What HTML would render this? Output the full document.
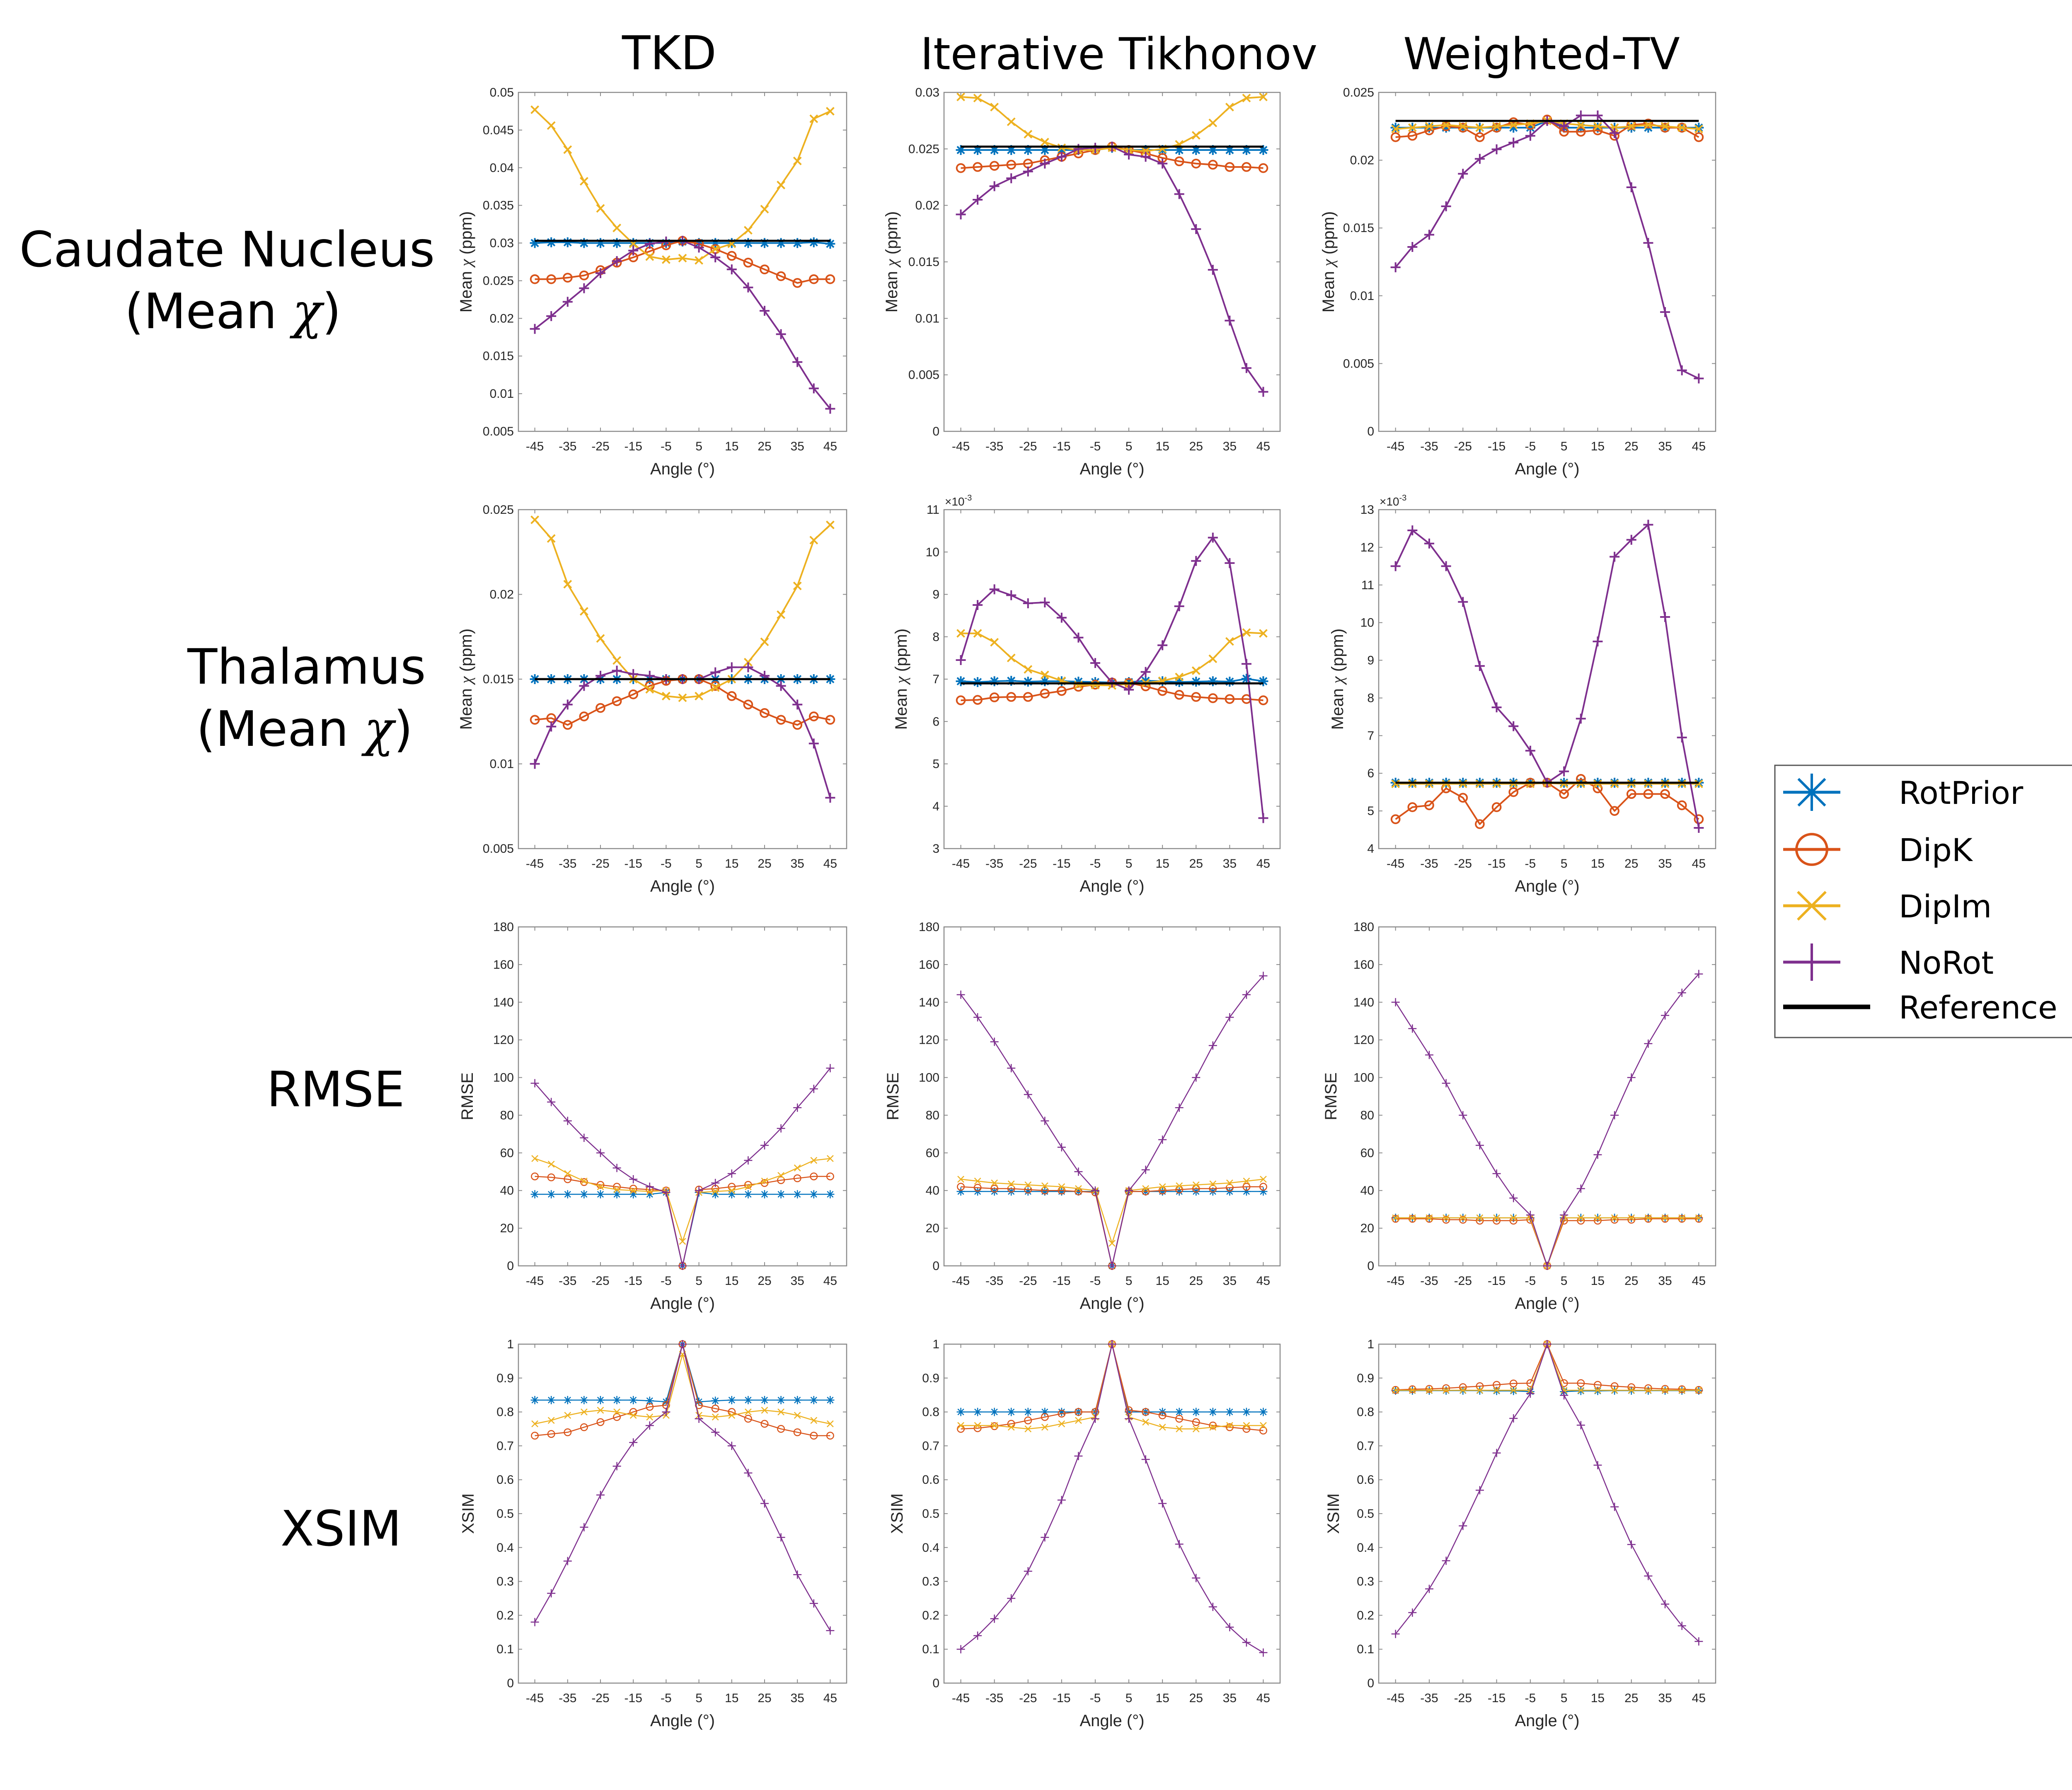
<!DOCTYPE html>
<html><head><meta charset="utf-8"><style>
html,body{margin:0;padding:0;background:#fff;}
svg{display:block;}
</style></head><body>
<svg id="fig" xmlns="http://www.w3.org/2000/svg" width="5160" height="4320" viewBox="0 0 5160 4320">
<rect x="0" y="0" width="5160" height="4320" fill="#fff"/>
<g font-family="'DejaVu Sans', 'Liberation Sans', sans-serif" fill="#000">
<text x="1615" y="167" font-size="112" text-anchor="middle">TKD</text>
<text x="2700" y="167" font-size="106" text-anchor="middle">Iterative Tikhonov</text>
<text x="3720" y="167" font-size="106" text-anchor="middle">Weighted-TV</text>
<text x="548" y="643" font-size="118" text-anchor="middle">Caudate Nucleus</text>
<text x="562" y="792" font-size="118" text-anchor="middle">(Mean <tspan font-style="italic" font-family="'DejaVu Serif', serif">χ</tspan>)</text>
<text x="740" y="1650" font-size="118" text-anchor="middle">Thalamus</text>
<text x="735" y="1800" font-size="118" text-anchor="middle">(Mean <tspan font-style="italic" font-family="'DejaVu Serif', serif">χ</tspan>)</text>
<text x="810" y="2670" font-size="118" text-anchor="middle">RMSE</text>
<text x="823" y="3730" font-size="118" text-anchor="middle">XSIM</text>
</g>
<g id="panels"></g>
<g id="legend"></g>
</svg>
<script>
const angles = [-45,-40,-35,-30,-25,-20,-15,-10,-5,0,5,10,15,20,25,30,35,40,45];
const xTickLabels = [-45,-35,-25,-15,-5,5,15,25,35,45];

// Row 1: Caudate mean chi
const tkdCaudRot = [0.0300,0.0301,0.0301,0.0300,0.0300,0.0300,0.0300,0.0300,0.0300,0.0302,0.0300,0.0300,0.0300,0.0300,0.0300,0.0300,0.0300,0.0301,0.0299];
const tkdCaudDipK = [0.0252,0.0252,0.0254,0.0257,0.0264,0.0274,0.0281,0.0289,0.0297,0.0303,0.0299,0.0292,0.0283,0.0274,0.0265,0.0256,0.0247,0.0252,0.0252];
const tkdCaudDipIm = [0.0477,0.0456,0.0424,0.0382,0.0346,0.0320,0.0299,0.0282,0.0278,0.0280,0.0277,0.0292,0.0299,0.0317,0.0345,0.0377,0.0409,0.0465,0.0475];
const tkdCaudNoRot = [0.0186,0.0203,0.0222,0.0240,0.0260,0.0276,0.0290,0.0299,0.0302,0.0303,0.0294,0.0281,0.0265,0.0241,0.0210,0.0179,0.0142,0.0107,0.0080];
const tkdCaudRef = [0.0303];

const tikCaudRot = [0.0249,0.0249,0.0249,0.0249,0.0249,0.0249,0.0249,0.0249,0.0249,0.0251,0.0249,0.0249,0.0249,0.0249,0.0249,0.0249,0.0249,0.0249,0.0249];
const tikCaudDipK = [0.0233,0.0234,0.0235,0.0236,0.0237,0.0240,0.0243,0.0246,0.0249,0.0252,0.0249,0.0246,0.0242,0.0239,0.0237,0.0236,0.0234,0.0234,0.0233];
const tikCaudDipIm = [0.0296,0.0295,0.0287,0.0274,0.0263,0.0256,0.0251,0.0249,0.0249,0.0251,0.0249,0.0248,0.0250,0.0254,0.0262,0.0273,0.0287,0.0295,0.0296];
const tikCaudNoRot = [0.0192,0.0205,0.0217,0.0224,0.0230,0.0237,0.0243,0.0250,0.0251,0.0252,0.0245,0.0243,0.0237,0.0210,0.0179,0.0143,0.0098,0.0056,0.0035];
const tikCaudRef = [0.0252];

const wtvCaudRot = [0.0224,0.0224,0.0224,0.0224,0.0224,0.0224,0.0224,0.0224,0.0224,0.0229,0.0224,0.0224,0.0224,0.0224,0.0224,0.0224,0.0224,0.0224,0.0224];
const wtvCaudDipK = [0.0217,0.0218,0.0222,0.0225,0.0224,0.0217,0.0224,0.0228,0.0226,0.0230,0.0221,0.0221,0.0222,0.0218,0.0226,0.0227,0.0224,0.0224,0.0217];
const wtvCaudDipIm = [0.0223,0.0224,0.0225,0.0226,0.0225,0.0224,0.0225,0.0226,0.0227,0.0229,0.0227,0.0226,0.0225,0.0224,0.0225,0.0226,0.0225,0.0224,0.0223];
const wtvCaudNoRot = [0.0121,0.0136,0.0145,0.0166,0.0190,0.0201,0.0208,0.0213,0.0218,0.0229,0.0225,0.0233,0.0233,0.0220,0.0180,0.0139,0.0088,0.0045,0.0039];
const wtvCaudRef = [0.0229];

// Row 2: Thalamus mean chi
const tkdThalRot = [0.0150,0.0150,0.0150,0.0150,0.0150,0.0150,0.0150,0.0150,0.0150,0.0150,0.0150,0.0150,0.0150,0.0150,0.0150,0.0150,0.0150,0.0150,0.0150];
const tkdThalDipK = [0.0126,0.0127,0.0123,0.0128,0.0133,0.0137,0.0141,0.0146,0.0149,0.0150,0.0150,0.0146,0.0140,0.0135,0.0130,0.0126,0.0123,0.0128,0.0126];
const tkdThalDipIm = [0.0244,0.0233,0.0206,0.0190,0.0174,0.0161,0.0150,0.0144,0.0140,0.0139,0.0140,0.0145,0.0150,0.0160,0.0172,0.0188,0.0205,0.0232,0.0241];
const tkdThalNoRot = [0.0100,0.0122,0.0135,0.0146,0.0152,0.0155,0.0153,0.0152,0.0150,0.0150,0.0150,0.0154,0.0157,0.0157,0.0152,0.0146,0.0135,0.0112,0.0080];
const tkdThalRef = [0.0150];

const tikThalRot = [6.95,6.93,6.95,6.96,6.94,6.95,6.95,6.94,6.93,6.92,6.93,6.96,6.95,6.93,6.94,6.95,6.94,7.01,6.95];
const tikThalDipK = [6.50,6.51,6.57,6.58,6.58,6.66,6.72,6.82,6.87,6.92,6.91,6.83,6.72,6.63,6.58,6.55,6.53,6.53,6.50];
const tikThalDipIm = [8.08,8.08,7.87,7.50,7.23,7.10,6.96,6.86,6.86,6.85,6.89,6.91,6.96,7.05,7.20,7.48,7.89,8.10,8.08];
const tikThalNoRot = [7.45,8.75,9.12,8.98,8.79,8.81,8.45,7.98,7.38,6.92,6.75,7.17,7.80,8.72,9.79,10.34,9.74,7.36,3.72];
const tikThalRef = [6.90];

const wtvThalRot = [5.75,5.75,5.75,5.75,5.75,5.75,5.75,5.75,5.75,5.75,5.75,5.75,5.75,5.75,5.75,5.75,5.75,5.75,5.75];
const wtvThalDipK = [4.78,5.10,5.15,5.60,5.35,4.65,5.10,5.50,5.75,5.75,5.45,5.85,5.60,5.00,5.45,5.45,5.45,5.15,4.78];
const wtvThalDipIm = [5.72,5.72,5.72,5.72,5.72,5.72,5.72,5.72,5.72,5.74,5.72,5.72,5.72,5.72,5.72,5.72,5.72,5.72,5.72];
const wtvThalNoRot = [11.50,12.45,12.10,11.50,10.55,8.85,7.75,7.25,6.60,5.75,6.05,7.45,9.50,11.75,12.20,12.60,10.15,6.95,4.55];
const wtvThalRef = [5.75];

// Row 3: RMSE
const tkdRmseRot = [38,38,38,38,38,38,38,38,39,0,39,38,38,38,38,38,38,38,38];
const tkdRmseDipK = [47.5,47,46,44.5,43,42,41,40.5,40,0,40.5,41,42,43,44,45.5,46.5,47.5,47.5];
const tkdRmseDipIm = [57,54,49,45,42,40.5,40,39.5,40,13,39,39.5,40,42,45,48,52,56,57];
const tkdRmseNoRot = [97,87,77,68,60,52,46,42,39,0,40,44,49,56,64,73,84,94,105];

const tikRmseRot = [39.5,39.5,39.5,39.5,39.5,39.5,39.5,39.5,39.5,0,39.5,39.5,39.5,39.5,39.5,39.5,39.5,39.5,39.5];
const tikRmseDipK = [42,41.5,41,41,40.5,40,40,39.5,39,0,39.5,39.5,40,40.5,41,41,41.5,42,42];
const tikRmseDipIm = [46,45,44,43.5,43,42.5,42,41,40,12,40,41,42,42.5,43,43.5,44,45,46];
const tikRmseNoRot = [144,132,119,105,91,77,63,50,40,0,40,51,67,84,100,117,132,144,154];

const wtvRmseRot = [25.5,25.5,25.5,25.5,25.5,25.5,25.5,25.5,25.5,0,25.5,25.5,25.5,25.5,25.5,25.5,25.5,25.5,25.5];
const wtvRmseDipK = [25,25,25,24.5,24.5,24,24,24,24.5,0,24,24,24,24.5,24.5,25,25,25,25];
const wtvRmseDipIm = [25.5,25.5,25.5,25.5,25.5,25.5,25.5,25.5,25.5,0,25.5,25.5,25.5,25.5,25.5,25.5,25.5,25.5,25.5];
const wtvRmseNoRot = [140,126,112,97,80,64,49,36,27,0,27,41,59,80,100,118,133,145,155];

// Row 4: XSIM
const tkdXsimRot = [0.835,0.835,0.835,0.835,0.835,0.835,0.835,0.833,0.83,1,0.83,0.833,0.835,0.835,0.835,0.835,0.835,0.835,0.835];
const tkdXsimDipK = [0.73,0.735,0.74,0.755,0.77,0.785,0.80,0.815,0.82,1,0.82,0.81,0.80,0.78,0.765,0.75,0.74,0.73,0.73];
const tkdXsimDipIm = [0.765,0.775,0.79,0.80,0.805,0.80,0.79,0.785,0.79,0.97,0.79,0.785,0.79,0.80,0.805,0.80,0.79,0.775,0.765];
const tkdXsimNoRot = [0.18,0.265,0.36,0.46,0.555,0.64,0.71,0.76,0.80,1,0.78,0.74,0.70,0.62,0.53,0.43,0.32,0.235,0.155];

const tikXsimRot = [0.80,0.80,0.80,0.80,0.80,0.80,0.80,0.80,0.80,1,0.80,0.80,0.80,0.80,0.80,0.80,0.80,0.80,0.80];
const tikXsimDipK = [0.75,0.752,0.758,0.765,0.775,0.785,0.795,0.80,0.80,1,0.805,0.80,0.79,0.78,0.77,0.76,0.755,0.75,0.745];
const tikXsimDipIm = [0.76,0.76,0.76,0.755,0.75,0.755,0.765,0.775,0.785,1,0.785,0.77,0.755,0.75,0.75,0.755,0.76,0.76,0.76];
const tikXsimNoRot = [0.10,0.14,0.19,0.25,0.33,0.43,0.54,0.67,0.78,1,0.78,0.66,0.53,0.41,0.31,0.225,0.165,0.12,0.09];

const wtvXsimRot = [0.863,0.863,0.863,0.863,0.863,0.863,0.862,0.862,0.86,1,0.86,0.862,0.862,0.863,0.863,0.863,0.863,0.863,0.863];
const wtvXsimDipK = [0.865,0.867,0.868,0.87,0.873,0.876,0.88,0.884,0.885,1,0.885,0.885,0.88,0.876,0.873,0.87,0.868,0.867,0.865];
const wtvXsimDipIm = [0.864,0.864,0.864,0.864,0.864,0.864,0.864,0.864,0.864,1,0.864,0.864,0.864,0.864,0.864,0.864,0.864,0.864,0.864];
const wtvXsimNoRot = [0.145,0.208,0.278,0.361,0.464,0.569,0.679,0.781,0.854,1,0.849,0.761,0.643,0.520,0.409,0.316,0.233,0.169,0.123];

const caudTkdTicks = ['0.005','0.01','0.015','0.02','0.025','0.03','0.035','0.04','0.045','0.05'];
const caudTikTicks = ['0','0.005','0.01','0.015','0.02','0.025','0.03'];
const caudWtvTicks = ['0','0.005','0.01','0.015','0.02','0.025'];
const thalTkdTicks = ['0.005','0.01','0.015','0.02','0.025'];
const thalTikTicks = ['3','4','5','6','7','8','9','10','11'];
const thalWtvTicks = ['4','5','6','7','8','9','10','11','12','13'];
const rmseTicks = ['0','20','40','60','80','100','120','140','160','180'];
const xsimTicks = ['0','0.1','0.2','0.3','0.4','0.5','0.6','0.7','0.8','0.9','1'];

const NS = 'http://www.w3.org/2000/svg';
const COLORS = {rot:'#0072BD', dipk:'#D95319', dipim:'#EDB120', norot:'#7E2F8E'};
const colLeft = [1251, 2278, 3327];
const colW = [792, 811, 813];
const rowTop = [223, 1230, 2237, 3244];
const rowH = 818;

function el(tag, attrs, parent) {
  const e = document.createElementNS(NS, tag);
  for (const k in attrs) e.setAttribute(k, attrs[k]);
  if (parent) parent.appendChild(e);
  return e;
}

function marker(g, type, x, y, s, color, sw) {
  const d = [];
  if (type === 'rot') {
    d.push(`M${x-s},${y}H${x+s}M${x},${y-s}V${y+s}`);
    const a = s*0.72;
    d.push(`M${x-a},${y-a}L${x+a},${y+a}M${x-a},${y+a}L${x+a},${y-a}`);
  } else if (type === 'dipim') {
    const a = s*0.75;
    d.push(`M${x-a},${y-a}L${x+a},${y+a}M${x-a},${y+a}L${x+a},${y-a}`);
  } else if (type === 'norot') {
    d.push(`M${x-s},${y}H${x+s}M${x},${y-s}V${y+s}`);
  }
  if (type === 'dipk') {
    const c = el('circle', {cx:x, cy:y, r:s*0.82, fill:'none', stroke:color, 'stroke-width':sw}, g);
    
    
  } else {
    const p = el('path', {d:d.join(''), fill:'none', stroke:color, 'stroke-width':sw}, g);
    
    
  }
}

const panels = [
  {c:0,r:0,ticks:caudTkdTicks,lo:0.005,hi:0.05,yl:'chi',ylx:113,ref:tkdCaudRef,s:[tkdCaudRot,tkdCaudDipK,tkdCaudDipIm,tkdCaudNoRot],name:'tkd-caudate'},
  {c:1,r:0,ticks:caudTikTicks,lo:0,hi:0.03,yl:'chi',ylx:113,ref:tikCaudRef,s:[tikCaudRot,tikCaudDipK,tikCaudDipIm,tikCaudNoRot],name:'tikhonov-caudate'},
  {c:2,r:0,ticks:caudWtvTicks,lo:0,hi:0.025,yl:'chi',ylx:108,ref:wtvCaudRef,s:[wtvCaudRot,wtvCaudDipK,wtvCaudDipIm,wtvCaudNoRot],name:'wtv-caudate'},
  {c:0,r:1,ticks:thalTkdTicks,lo:0.005,hi:0.025,yl:'chi',ylx:113,ref:tkdThalRef,s:[tkdThalRot,tkdThalDipK,tkdThalDipIm,tkdThalNoRot],name:'tkd-thalamus'},
  {c:1,r:1,ticks:thalTikTicks,lo:3,hi:11,yl:'chi',ylx:90,ref:tikThalRef,s:[tikThalRot,tikThalDipK,tikThalDipIm,tikThalNoRot],name:'tikhonov-thalamus',exp:true},
  {c:2,r:1,ticks:thalWtvTicks,lo:4,hi:13,yl:'chi',ylx:86,ref:wtvThalRef,s:[wtvThalRot,wtvThalDipK,wtvThalDipIm,wtvThalNoRot],name:'wtv-thalamus',exp:true},
  {c:0,r:2,ticks:rmseTicks,lo:0,hi:180,yl:'RMSE',ylx:110,ref:null,s:[tkdRmseRot,tkdRmseDipK,tkdRmseDipIm,tkdRmseNoRot],name:'tkd-rmse'},
  {c:1,r:2,ticks:rmseTicks,lo:0,hi:180,yl:'RMSE',ylx:110,ref:null,s:[tikRmseRot,tikRmseDipK,tikRmseDipIm,tikRmseNoRot],name:'tikhonov-rmse'},
  {c:2,r:2,ticks:rmseTicks,lo:0,hi:180,yl:'RMSE',ylx:102,ref:null,s:[wtvRmseRot,wtvRmseDipK,wtvRmseDipIm,wtvRmseNoRot],name:'wtv-rmse'},
  {c:0,r:3,ticks:xsimTicks,lo:0,hi:1,yl:'XSIM',ylx:108,ref:null,s:[tkdXsimRot,tkdXsimDipK,tkdXsimDipIm,tkdXsimNoRot],name:'tkd-xsim'},
  {c:1,r:3,ticks:xsimTicks,lo:0,hi:1,yl:'XSIM',ylx:100,ref:null,s:[tikXsimRot,tikXsimDipK,tikXsimDipIm,tikXsimNoRot],name:'tikhonov-xsim'},
  {c:2,r:3,ticks:xsimTicks,lo:0,hi:1,yl:'XSIM',ylx:96,ref:null,s:[wtvXsimRot,wtvXsimDipK,wtvXsimDipIm,wtvXsimNoRot],name:'wtv-xsim'}
];
const keys = ['rot','dipk','dipim','norot'];
const root = document.getElementById('panels');

panels.forEach(P => {
  const L = colLeft[P.c], W = colW[P.c], T = rowTop[P.r], B = T + rowH;
  const xs = a => L + (a + 50) / 100 * W;
  const ys = v => B - (v - P.lo) / (P.hi - P.lo) * rowH;
  const g = el('g', {}, root);
  
  
  const big = P.r < 2;
  const box = el('rect', {x:L, y:T, width:W, height:rowH, fill:'none', stroke:'#8a8a8a', 'stroke-width':2.5}, g);
  
  
  xTickLabels.forEach(a => {
    const x = xs(a);
    el('path', {d:`M${x},${B}V${B-9}M${x},${T}V${T+9}`, stroke:'#8a8a8a', 'stroke-width':2}, g);
    const t = el('text', {x:x, y:B+46, 'font-size':30, 'text-anchor':'middle', fill:'#262626', 'font-family':"'Liberation Sans', sans-serif"}, g);
    t.textContent = String(a);
    
    
  });
  const n = P.ticks.length;
  P.ticks.forEach((lab, i) => {
    const v = P.lo + (P.hi - P.lo) * i / (n - 1);
    const y = ys(v);
    el('path', {d:`M${L},${y}H${L+9}M${L+W},${y}H${L+W-9}`, stroke:'#8a8a8a', 'stroke-width':2}, g);
    const t = el('text', {x:L-11, y:y+10, 'font-size':30, 'text-anchor':'end', fill:'#262626', 'font-family':"'Liberation Sans', sans-serif"}, g);
    t.textContent = lab;
    
    
  });
  if (P.exp) {
    const t = el('text', {x:L+2, y:T-10, 'font-size':28, fill:'#262626', 'font-family':"'Liberation Sans', sans-serif"}, g);
    t.innerHTML = '×10<tspan dy="-12" font-size="20">-3</tspan>';
    
    
  }
  const xl = el('text', {x:L+W/2, y:B+104, 'font-size':40, 'text-anchor':'middle', fill:'#262626', 'font-family':"'Liberation Sans', sans-serif"}, g);
  xl.textContent = 'Angle (°)';
  
  
  const cy = T + rowH/2, cx = L - P.ylx;
  const yl = el('text', {x:cx, y:cy, 'font-size':40, 'text-anchor':'middle', fill:'#262626', transform:`rotate(-90 ${cx} ${cy})`, 'font-family':"'Liberation Sans', sans-serif"}, g);
  if (P.yl === 'chi') yl.innerHTML = 'Mean <tspan font-style="italic" font-family="\'Liberation Serif\', serif">χ</tspan> (ppm)';
  else yl.textContent = P.yl;
  
  
  const lw = big ? 4 : 2.5;
  const ms = big ? 12 : 10;
  const msw = big ? 4 : 2.5;
  P.s.forEach((vals, si) => {
    const k = keys[si];
    const sg = el('g', {}, g);
    
    
    const pts = vals.map((v, i) => xs(angles[i]) + ',' + ys(v)).join(' ');
    const pl = el('polyline', {points:pts, fill:'none', stroke:COLORS[k], 'stroke-width':lw, 'stroke-linejoin':'round'}, sg);
    
    
    vals.forEach((v, i) => marker(sg, k, xs(angles[i]), ys(v), ms, COLORS[k], msw));
  });
  if (P.ref) {
    const r = el('line', {x1:xs(angles[0]), x2:xs(angles[angles.length-1]), y1:ys(P.ref[0]), y2:ys(P.ref[0]), stroke:'#000', 'stroke-width':5}, g);
    
    
  }
});

const lg = document.getElementById('legend');
const lbox = el('rect', {x:4283, y:1847, width:723, height:657, fill:'#fff', stroke:'#555', 'stroke-width':3}, lg);


const legendNames = ['RotPrior','DipK','DipIm','NoRot','Reference'];
const legendY = [1912, 2050, 2186, 2322, 2430];
legendNames.forEach((nm, i) => {
  const y = legendY[i];
  const eg = el('g', {}, lg);
  
  
  if (i < 4) {
    const k = keys[i];
    el('line', {x1:4303, x2:4441, y1:y, y2:y, stroke:COLORS[k], 'stroke-width':7}, eg);
    marker(eg, k, 4372, y, 45, COLORS[k], 6);
  } else {
    el('line', {x1:4303, x2:4513, y1:y, y2:y, stroke:'#000', 'stroke-width':11}, eg);
  }
  const t = el('text', {x:4582, y:y+28, 'font-size':76, fill:'#000', 'font-family':"'DejaVu Sans', sans-serif"}, eg);
  t.textContent = nm;
  
  
});
</script>
</body></html>
